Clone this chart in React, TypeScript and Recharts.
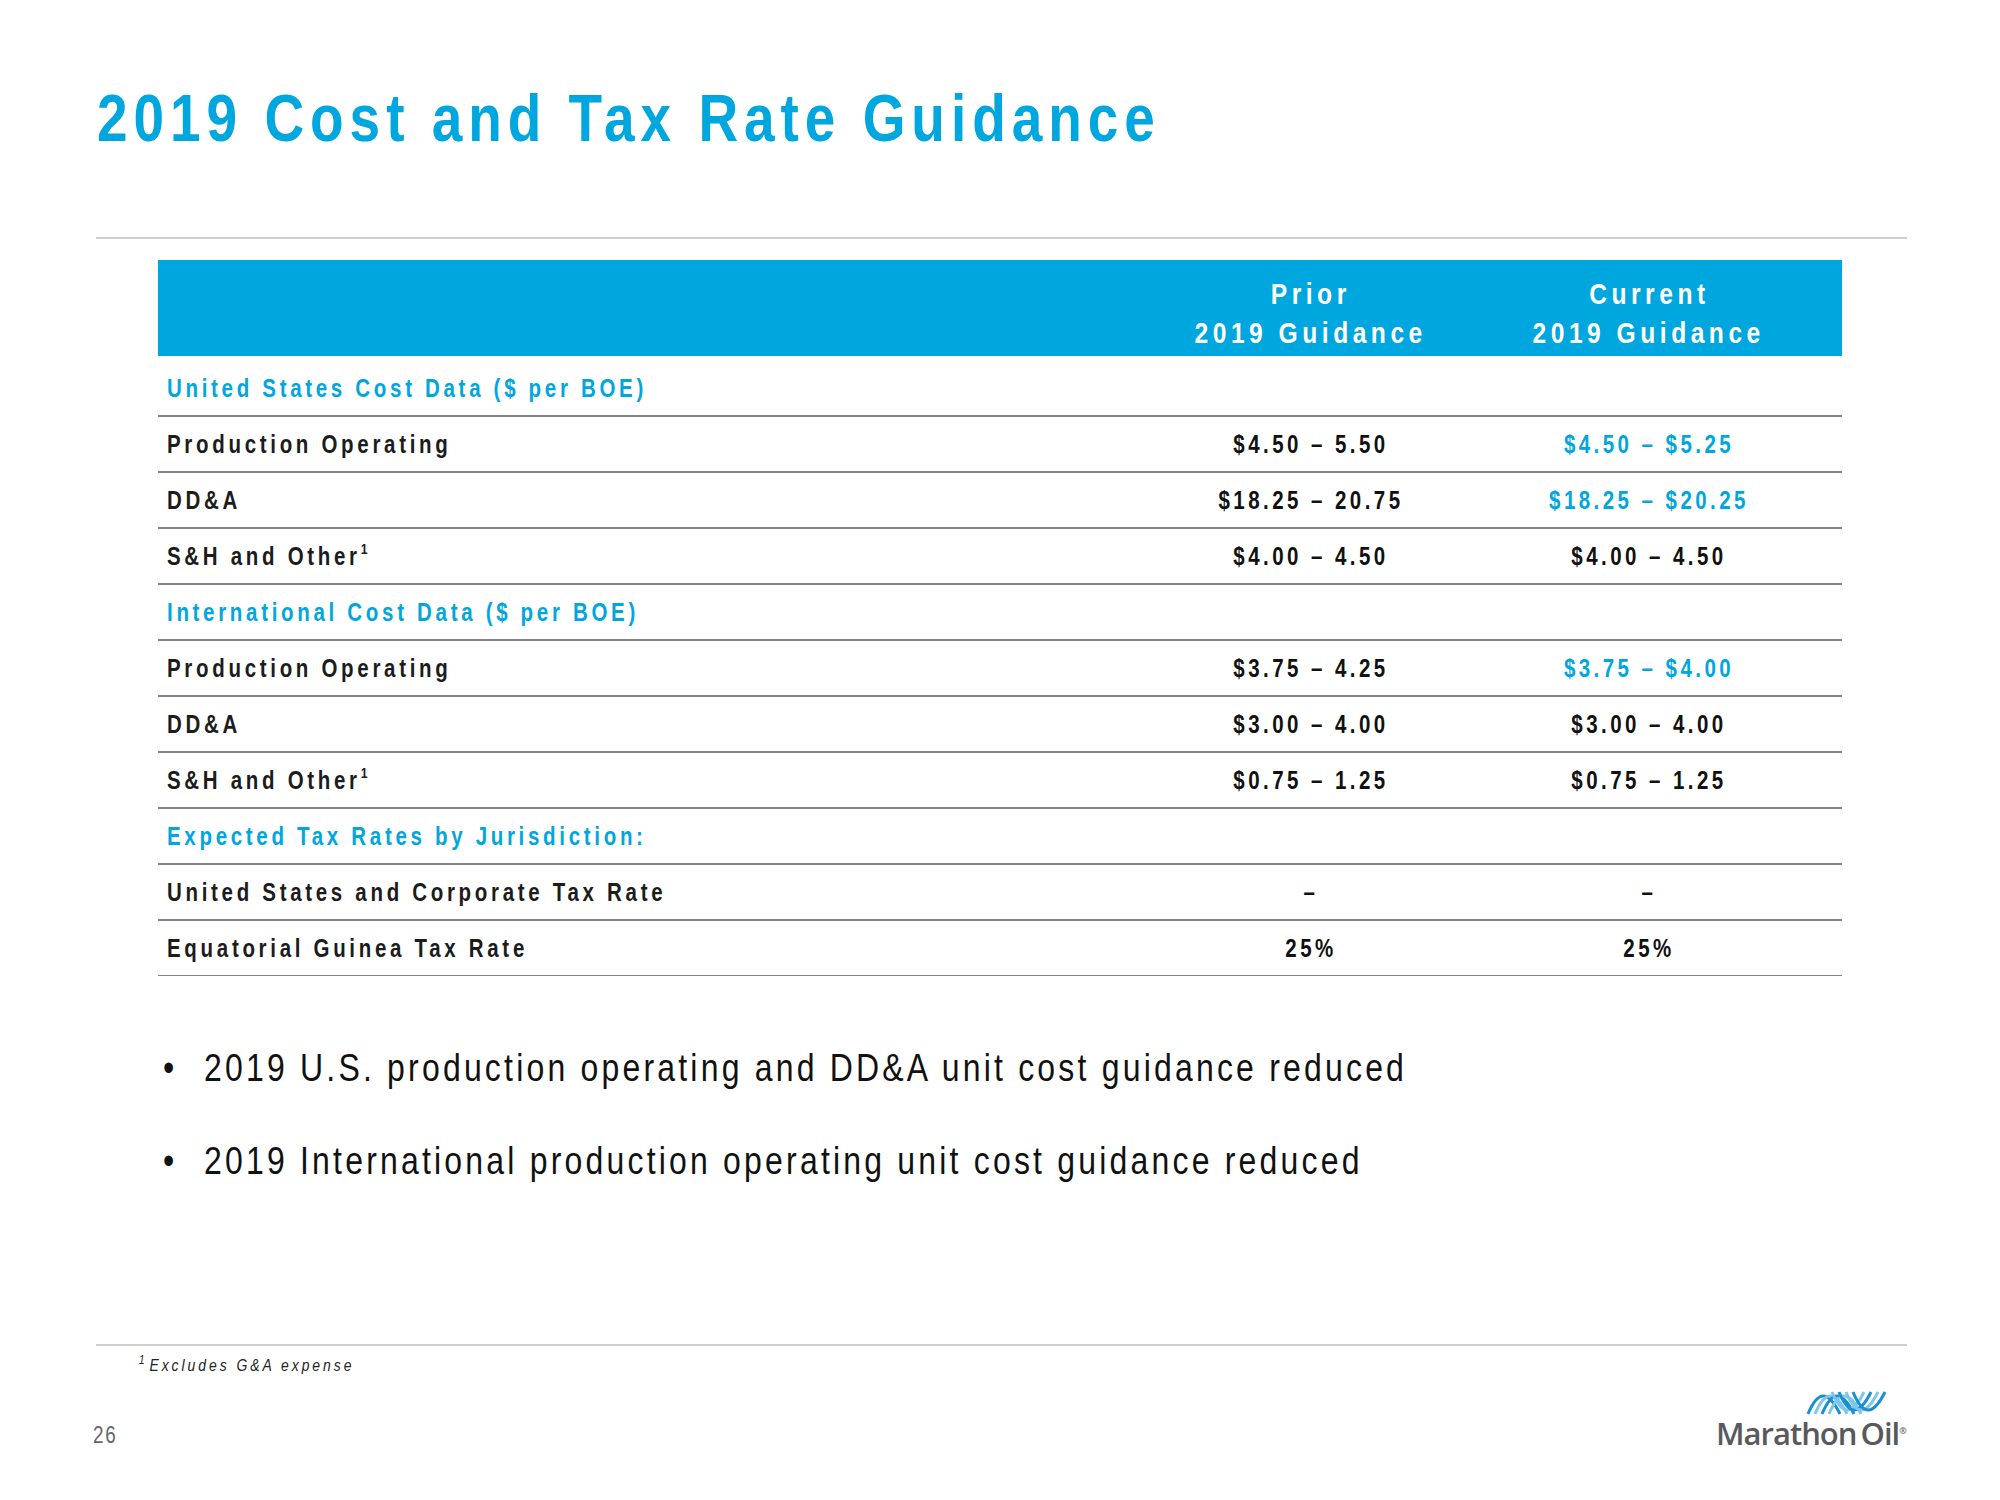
import React from "react";
import { BarChart, Bar, XAxis, YAxis } from "recharts";

const rowLabels = [
  "United States Cost Data ($ per BOE)",
  "Production Operating",
  "DD&A",
  "S&H and Other",
  "International Cost Data ($ per BOE)",
  "Production Operating",
  "DD&A",
  "S&H and Other",
  "Expected Tax Rates by Jurisdiction:",
  "United States and Corporate Tax Rate",
  "Equatorial Guinea Tax Rate",
];
const sectionRows = [0, 4, 8];
const footnoteRows = [3, 7];
const priorGuidance = ["", "$4.50 – 5.50", "$18.25 – 20.75", "$4.00 – 4.50", "", "$3.75 – 4.25", "$3.00 – 4.00", "$0.75 – 1.25", "", "–", "25%"];
const currentGuidance = ["", "$4.50 – $5.25", "$18.25 – $20.25", "$4.00 – 4.50", "", "$3.75 – $4.00", "$3.00 – 4.00", "$0.75 – 1.25", "", "–", "25%"];
const revisedRows = [1, 2, 5];
const columnHeaders = [["Prior", "2019 Guidance"], ["Current", "2019 Guidance"]];
const bullets = [
  "2019 U.S. production operating and DD&A unit cost guidance reduced",
  "2019 International production operating unit cost guidance reduced",
];

const BLUE = "#00a6de";
const FONT = '"Liberation Sans", Arial, sans-serif';
const NARROW = 0.82; // Arial Narrow is Arial squeezed horizontally

const tableData = rowLabels.map((label, i) => ({
  key: `r${i}`,
  label,
  prior: priorGuidance[i],
  current: currentGuidance[i],
  section: sectionRows.includes(i),
  note: footnoteRows.includes(i),
  revised: revisedRows.includes(i),
  rowSpan: 1,
}));

// column centres relative to table left edge
const PRIOR_X = 1153;
const CURRENT_X = 1491;

function Squeeze({ children, origin = "left", style }: any) {
  return (
    <span style={{ display: "inline-block", transform: `scaleX(${NARROW})`, transformOrigin: origin, whiteSpace: "nowrap", ...style }}>
      {children}
    </span>
  );
}

function TableRow(props: any) {
  const { x, y, width, height, payload } = props;
  const cy = y + height / 2;
  const labelStyle = { fontFamily: FONT, fontWeight: 700, fontSize: 25, letterSpacing: 4.5 };
  const valueStyle = { fontFamily: FONT, fontWeight: 700, fontSize: 25, letterSpacing: 4.2 };
  return (
    <g>
      <g transform={`translate(${x + 9},${cy}) scale(${NARROW},1)`}>
        <text x={0} y={0} dy="0.36em" fill={payload.section ? BLUE : "#1c1c1c"} style={labelStyle}>
          {payload.label}
          {payload.note && (
            <tspan fontSize={15} dy="-0.75em" letterSpacing={0}>1</tspan>
          )}
        </text>
      </g>
      {payload.prior && (
        <g transform={`translate(${x + PRIOR_X},${cy}) scale(${NARROW},1)`}>
          <text x={0} y={0} dy="0.36em" textAnchor="middle" fill="#111" style={valueStyle}>
            {payload.prior}
          </text>
        </g>
      )}
      {payload.current && (
        <g transform={`translate(${x + CURRENT_X},${cy}) scale(${NARROW},1)`}>
          <text x={0} y={0} dy="0.36em" textAnchor="middle" fill={payload.revised ? BLUE : "#111"} style={valueStyle}>
            {payload.current}
          </text>
        </g>
      )}
      <line x1={x} x2={x + width} y1={y + height} y2={y + height} stroke="#5a5a5a" strokeWidth={1.6} />
    </g>
  );
}

export default function App() {
  return (
    <div style={{ position: "absolute", left: 0, top: 0, width: 2000, height: 1500, background: "#fff", overflow: "hidden", fontFamily: FONT }}>
      <div style={{ position: "absolute", left: 97, top: 78, fontSize: 67, fontWeight: 700, color: BLUE, lineHeight: "80px" }}>
        <Squeeze style={{ letterSpacing: 7.3 }}>2019 Cost and Tax Rate Guidance</Squeeze>
      </div>
      <div style={{ position: "absolute", left: 96, top: 237, width: 1811, height: 2, background: "#cfcfcf" }} />

      <div style={{ position: "absolute", left: 158, top: 260, width: 1684, height: 96, background: BLUE }}>
        {columnHeaders.map((lines, c) => (
          <div key={c} style={{ position: "absolute", left: (c === 0 ? PRIOR_X : CURRENT_X) - 200, top: 14, width: 400, textAlign: "center", color: "#fff", fontWeight: 700, fontSize: 30, lineHeight: "39px" }}>
            {lines.map((l) => (
              <div key={l}>
                <Squeeze origin="center" style={{ letterSpacing: 5.5 }}>{l}</Squeeze>
              </div>
            ))}
          </div>
        ))}
      </div>

      <div style={{ position: "absolute", left: 158, top: 360 }}>
        <BarChart width={1684} height={616} data={tableData} layout="vertical" margin={{ top: 0, right: 0, bottom: 0, left: 0 }} barCategoryGap={0}>
          <XAxis type="number" domain={[0, 1]} hide />
          <YAxis type="category" dataKey="key" hide />
          <Bar dataKey="rowSpan" isAnimationActive={false} shape={(p: any) => <TableRow {...p} />} />
        </BarChart>
      </div>

      {bullets.map((b, i) => (
        <div key={b} style={{ position: "absolute", left: 0, top: 1043 + i * 93, width: 1800, fontSize: 39, color: "#111", lineHeight: "50px", height: 50 }}>
          <span style={{ position: "absolute", left: 163 }}>
            <Squeeze>•</Squeeze>
          </span>
          <span style={{ position: "absolute", left: 204 }}>
            <Squeeze style={{ letterSpacing: 3.9 }}>{b}</Squeeze>
          </span>
        </div>
      ))}

      <div style={{ position: "absolute", left: 96, top: 1344, width: 1811, height: 2, background: "#cfcfcf" }} />
      <div style={{ position: "absolute", left: 139, top: 1353, fontSize: 17, fontStyle: "italic", color: "#222" }}>
        <Squeeze style={{ letterSpacing: 3.6 }}>
          <sup style={{ fontSize: 12, marginRight: 6, letterSpacing: 0 }}>1</sup>Excludes G&amp;A expense
        </Squeeze>
      </div>
      <div style={{ position: "absolute", left: 93, top: 1422, fontSize: 23, color: "#666" }}>
        <Squeeze style={{ letterSpacing: 2 }}>26</Squeeze>
      </div>

      <svg style={{ position: "absolute", left: 1800, top: 1388 }} width={90} height={30}>
        {[0, 1, 2, 3].map((k) => (
          <path key={k} d={`M${8 + k * 7} 26 C ${18 + k * 7} 2, ${28 + k * 7} 2, ${40 + k * 7} 26`} fill="none" stroke={k % 2 ? "#7fc6ec" : "#1a8fd0"} strokeWidth={3} />
        ))}
        {[0, 1, 2, 3].map((k) => (
          <path key={`b${k}`} d={`M${32 + k * 7} 4 C ${42 + k * 7} 28, ${52 + k * 7} 28, ${64 + k * 7} 4`} fill="none" stroke={k % 2 ? "#1a8fd0" : "#7fc6ec"} strokeWidth={3} />
        ))}
      </svg>
      <div style={{ position: "absolute", left: 1716, top: 1412, fontFamily: '"Open Sans", sans-serif', fontWeight: 600, fontSize: 31, color: "#58595b", letterSpacing: -1, whiteSpace: "nowrap" }}>
        Marathon<span style={{ marginLeft: 4 }}>Oil</span>
        <sup style={{ fontSize: 9 }}>®</sup>
      </div>
    </div>
  );
}
